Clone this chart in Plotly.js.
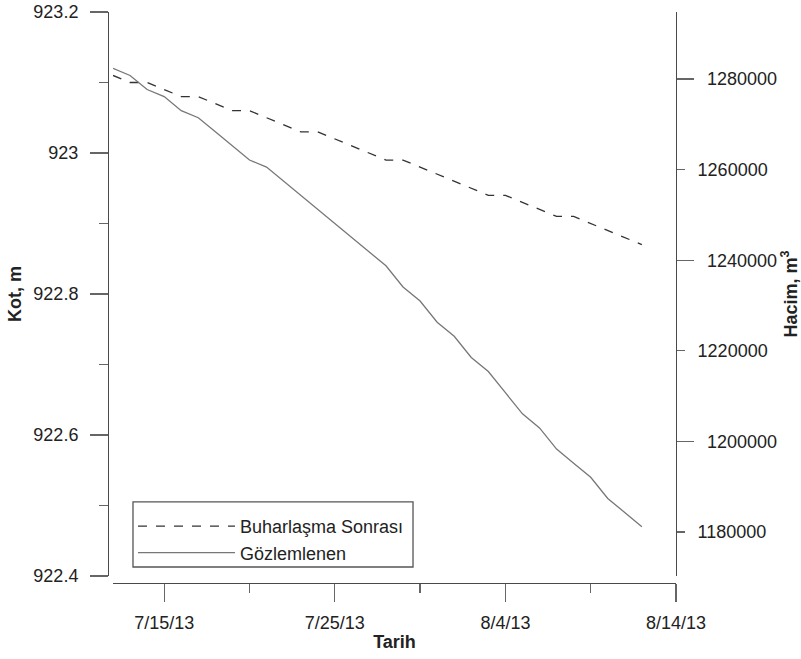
<!DOCTYPE html>
<html><head><meta charset="utf-8">
<script src="https://cdn.plot.ly/plotly-3.0.1.min.js"></script>
<style>html,body{margin:0;padding:0;background:#fff}#chart{width:801px;height:659px}</style>
</head><body><div id="chart"></div>
<script>
const dates = ['2013-07-12','2013-07-13','2013-07-14','2013-07-15','2013-07-16','2013-07-17','2013-07-18','2013-07-19',
  '2013-07-20','2013-07-21','2013-07-22','2013-07-23','2013-07-24','2013-07-25','2013-07-26','2013-07-27',
  '2013-07-28','2013-07-29','2013-07-30','2013-07-31','2013-08-01','2013-08-02','2013-08-03','2013-08-04',
  '2013-08-05','2013-08-06','2013-08-07','2013-08-08','2013-08-09','2013-08-10','2013-08-11','2013-08-12'];
const buharlasmaSonrasi = [923.11,923.10,923.10,923.09,923.08,923.08,923.07,923.06,
  923.06,923.05,923.04,923.03,923.03,923.02,923.01,923.00,
  922.99,922.99,922.98,922.97,922.96,922.95,922.94,922.94,
  922.93,922.92,922.91,922.91,922.90,922.89,922.88,922.87];
const gozlemlenen = [923.12,923.11,923.09,923.08,923.06,923.05,923.03,923.01,
  922.99,922.98,922.96,922.94,922.92,922.90,922.88,922.86,
  922.84,922.81,922.79,922.76,922.74,922.71,922.69,922.66,
  922.63,922.61,922.58,922.56,922.54,922.51,922.49,922.47];
const seriesNames = ['Buharlaşma Sonrası', 'Gözlemlenen'];
const xRange = ['2013-07-12', '2013-08-14'];
const xTickStart = '2013-07-15';
const kotRange = [922.4, 923.2];
const volRange = [1170290, 1294790];
const volTicksLong = [1200000, 1240000, 1280000];
const volTicksShort = [1180000, 1220000, 1260000];

const FONT = 'Arial, "Liberation Sans", sans-serif';
const FS = 18;
const DAY = 86400000;
const AX = '#4a4a4a', TK = '#666666', TXT = '#222222';

const traces = [
  {x: dates, y: buharlasmaSonrasi, name: seriesNames[0], type: 'scatter', mode: 'lines',
   line: {color: '#333333', width: 1.3, dash: '9px,9px'}},
  {x: dates, y: gozlemlenen, name: seriesNames[1], type: 'scatter', mode: 'lines',
   line: {color: '#777777', width: 1.3}},
  {x: [null], y: [null], yaxis: 'y2', type: 'scatter', mode: 'lines', showlegend: false, hoverinfo: 'skip'},
  {x: [null], y: [null], yaxis: 'y3', type: 'scatter', mode: 'lines', showlegend: false, hoverinfo: 'skip'}
];

const common = {showgrid: false, zeroline: false, ticks: 'outside', tickwidth: 1.3, tickcolor: TK,
  tickfont: {family: FONT, size: FS, color: TXT}};

const layout = {
  width: 801, height: 659,
  margin: {l: 108, r: 125, t: 12, b: 76, pad: 0},
  paper_bgcolor: '#ffffff', plot_bgcolor: '#ffffff',
  font: {family: FONT, size: FS, color: TXT},
  showlegend: true,
  legend: {x: 0.044, y: 0.0762, xanchor: 'left', yanchor: 'middle', bgcolor: 'rgba(0,0,0,0)',
    borderwidth: 0, font: {family: FONT, size: FS, color: TXT},
    itemwidth: 97, tracegroupgap: 0},
  shapes: [
    {type: 'rect', xref: 'paper', yref: 'paper', x0: 0.044, x1: 0.537, y0: 0.028, y1: 0.142,
     line: {color: '#555555', width: 1.3}, fillcolor: '#ffffff', layer: 'above'}
  ],
  xaxis: Object.assign({}, common, {
    type: 'date', domain: [0.0088, 1], anchor: 'free', position: 0, range: xRange,
    tickformat: '%-m/%-d/%y', tick0: xTickStart, dtick: 10 * DAY, ticklen: 18,
    showline: true, linecolor: AX, linewidth: 1.3, ticklabelstandoff: 5,
    title: {text: '<b>Tarih</b>', font: {family: FONT, size: FS, color: TXT}, standoff: 3},
    minor: {tick0: xTickStart, dtick: 5 * DAY, ticks: 'outside', ticklen: 9, tickwidth: 1.3, tickcolor: TK, showgrid: false}
  }),
  yaxis: Object.assign({}, common, {
    domain: [0.01226, 1], anchor: 'free', position: 0, range: kotRange,
    tick0: 922.4, dtick: 0.2, ticklen: 18, showline: true, linecolor: AX, linewidth: 1.3,
    ticklabelstandoff: 8,
    title: {text: '<b>Kot, m</b>', font: {family: FONT, size: FS, color: TXT}, standoff: 5},
    minor: {tick0: 922.4, dtick: 0.1, ticks: 'outside', ticklen: 9, tickwidth: 1.3, tickcolor: TK, showgrid: false}
  }),
  yaxis2: Object.assign({}, common, {
    overlaying: 'y', side: 'right', anchor: 'x', range: volRange,
    tickmode: 'array', tickvals: volTicksLong, tickformat: 'd', ticklen: 17,
    showline: true, linecolor: AX, linewidth: 1.3, ticklabelstandoff: 9,
    title: {text: '<b>Hacim, m<sup>3</sup></b>', font: {family: FONT, size: FS, color: TXT}, standoff: 8}
  }),
  yaxis3: Object.assign({}, common, {
    overlaying: 'y', side: 'right', anchor: 'x', range: volRange,
    tickmode: 'array', tickvals: volTicksShort, tickformat: 'd', ticklen: 8,
    showline: false, ticklabelstandoff: 9
  })
};

Plotly.newPlot('chart', traces, layout, {displayModeBar: false, staticPlot: true});
</script>
</body></html>
